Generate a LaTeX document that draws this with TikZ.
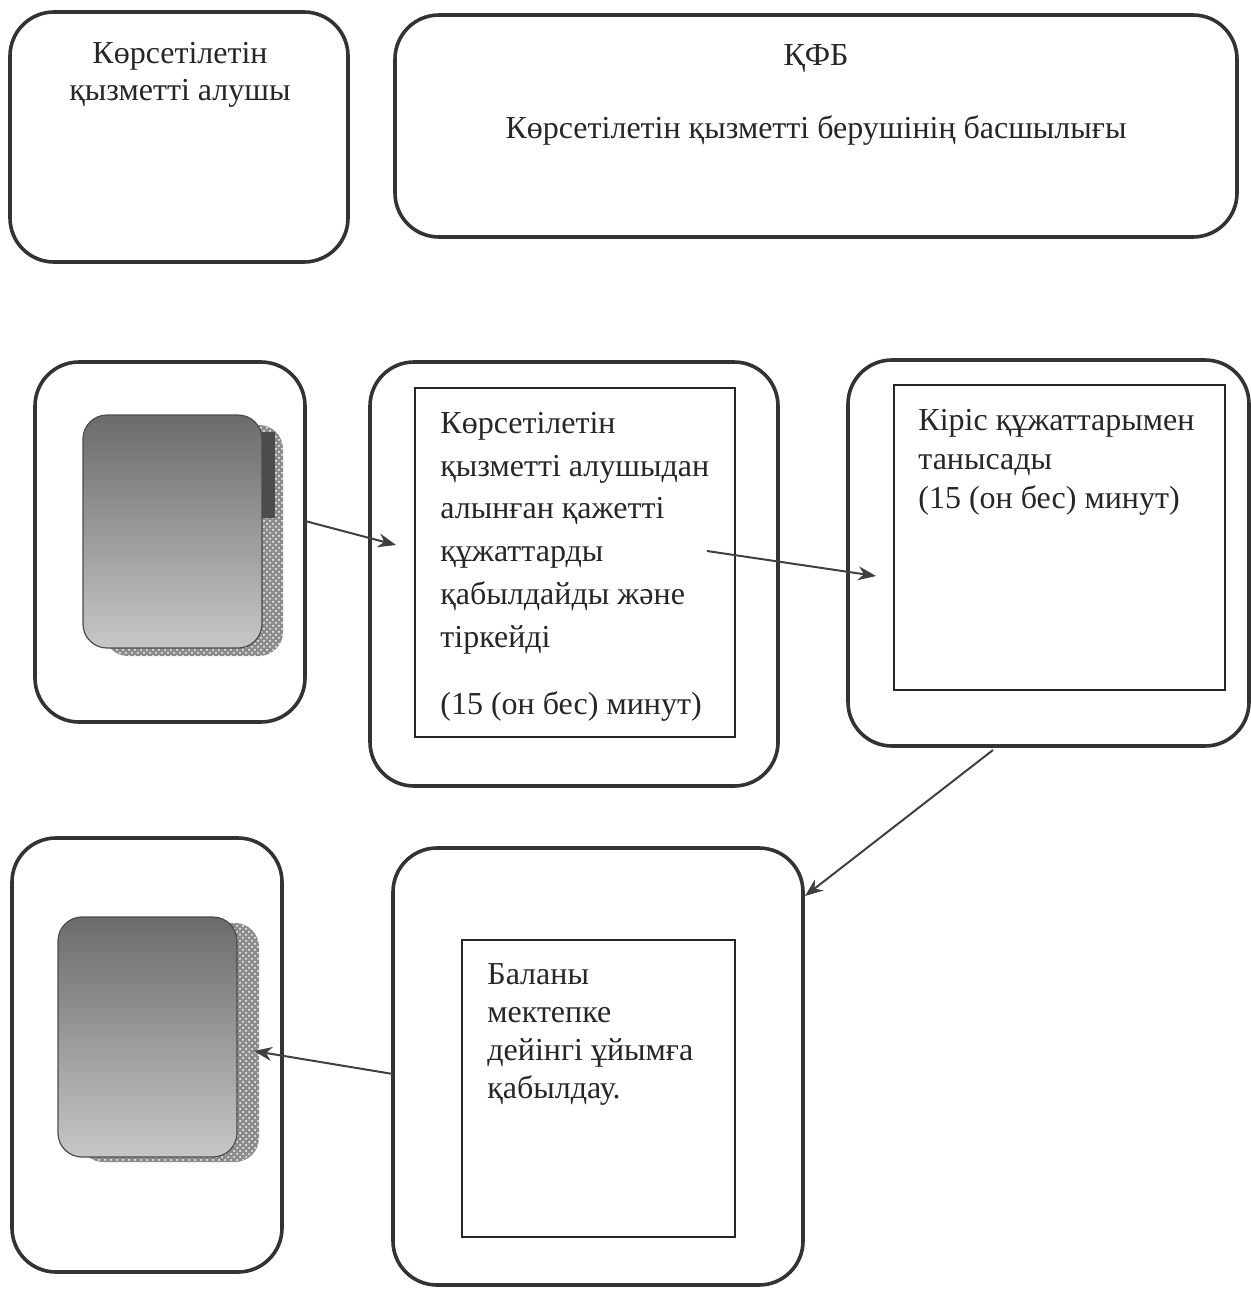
\documentclass[tikz,border=0pt]{standalone}
\usepackage{fontspec}
\setmainfont{Liberation Serif}
\usetikzlibrary{arrows.meta,fit,patterns}

\begin{document}
\begin{tikzpicture}[x=0.5pt,y=-0.5pt,>={Stealth[length=9pt,width=7pt]},
  lane/.style={draw=black!80,line width=1.8pt,rounded corners=22pt,inner sep=0pt},
  txtbox/.style={draw=black!85,line width=0.9pt,inner sep=0pt},
  doc/.style={draw=black!70,line width=0.6pt,rounded corners=12pt,top color=black!58,bottom color=black!22,inner sep=0pt},
  docshadow/.style={fill=black!45,postaction={pattern=crosshatch dots,pattern color=white},rounded corners=12pt},
  flow/.style={->,draw=black!75,line width=1pt},
  lbl/.style={inner sep=0pt,text=black!85}]
  \useasboundingbox (0,0) rectangle (1251,1289);

  % headers
  \node[lane,fit={(10,12) (348,262)}] (hdrRecip) {};
  \node[lane,fit={(395,15) (1237,237)}] (hdrOrg) {};
  \node[lbl,anchor=north,align=center,font=\fontsize{16}{18.5}\selectfont] (hdrRecipTxt) at (180,42) {Көрсетілетін\\қызметті алушы};
  \node[lbl,anchor=base,font=\fontsize{16}{18.5}\selectfont] (hdrOrgName) at (816,66) {ҚФБ};
  \node[lbl,anchor=base,font=\fontsize{16}{18.5}\selectfont] (hdrOrgTxt) at (816,139) {Көрсетілетін қызметті берушінің басшылығы};

  % second row
  \node[lane,fit={(35,362) (305,722)}] (stepGive) {};
  \fill[docshadow] (104,425) rectangle (283,656);
  \fill[black!70] (262,432) rectangle (275,518);
  \node[doc,fit={(83,415) (262,648)}] (docIn) {};

  \node[lane,fit={(370,362) (778,786)}] (stepAccept) {};
  \node[txtbox,fit={(415,388) (735,737)}] (acceptBox) {};
  \node[lbl,anchor=north west,align=left,font=\fontsize{16}{21.35}\selectfont] (acceptTxt) at (440,412)
    {Көрсетілетін\\қызметті алушыдан\\алынған қажетті\\құжаттарды\\қабылдайды және\\тіркейді\\[12.6pt](15 (он бес) минут)};

  \node[lane,fit={(848,360) (1249,746)}] (stepReview) {};
  \node[txtbox,fit={(894,385) (1225,690)}] (reviewBox) {};
  \node[lbl,anchor=north west,align=left,font=\fontsize{16}{19.5}\selectfont] (reviewTxt) at (918,409)
    {Кіріс құжаттарымен\\танысады\\(15 (он бес) минут)};

  % third row
  \node[lane,fit={(12,838) (282,1272)}] (stepGet) {};
  \fill[docshadow] (79,923) rectangle (259,1162);
  \node[doc,fit={(58,917) (237,1157)}] (docOut) {};

  \node[lane,fit={(393,848) (803,1285)}] (stepAdmit) {};
  \node[txtbox,fit={(462,940) (735,1237)}] (admitBox) {};
  \node[lbl,anchor=north west,align=left,font=\fontsize{16}{19}\selectfont] (admitTxt) at (487,963)
    {Баланы\\мектепке\\дейінгі ұйымға\\қабылдау.};

  % arrows
  \coordinate (f1s) at (305,521); \coordinate (f1e) at (396,545);
  \coordinate (f2s) at (707,551); \coordinate (f2e) at (876,576);
  \coordinate (f3s) at (993,750); \coordinate (f3e) at (805,896);
  \coordinate (f4s) at (393,1074); \coordinate (f4e) at (254,1051);
  \draw[flow] (f1s) -- (f1e);
  \draw[flow] (f2s) -- (f2e);
  \draw[flow] (f3s) -- (f3e);
  \draw[flow] (f4s) -- (f4e);
\end{tikzpicture}
\end{document}
